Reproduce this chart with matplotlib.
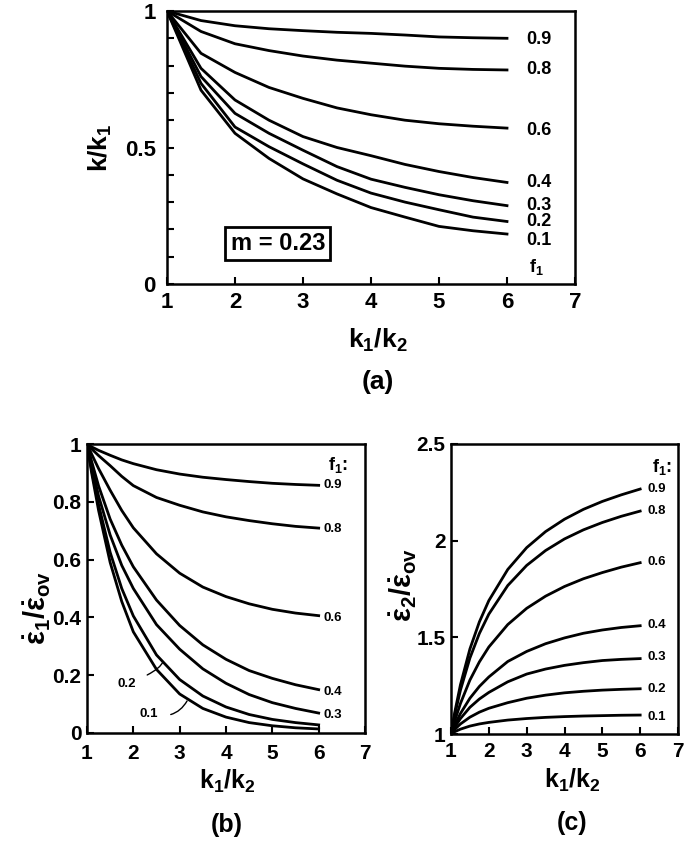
import matplotlib
matplotlib.use("Agg")
import matplotlib.pyplot as plt
from matplotlib.ticker import FixedLocator, FixedFormatter

plt.rcParams['font.family'] = ['Liberation Sans', 'DejaVu Sans']
plt.rcParams['font.weight'] = 'bold'
plt.rcParams['mathtext.fontset'] = 'custom'
plt.rcParams['mathtext.rm'] = 'Liberation Sans:bold'
plt.rcParams['mathtext.bf'] = 'Liberation Sans:bold'
plt.rcParams['mathtext.it'] = 'Liberation Sans:bold'

# ---------------- data ----------------
f1_labels = ['0.9', '0.8', '0.6', '0.4', '0.3', '0.2', '0.1']

# panel (a): k/k1 vs k1/k2
xa = [1, 1.5, 2, 2.5, 3, 3.5, 4, 4.5, 5, 5.5, 6]
ka_09 = [1, 0.965, 0.946, 0.935, 0.928, 0.922, 0.918, 0.912, 0.905, 0.902, 0.900]
ka_08 = [1, 0.925, 0.880, 0.855, 0.835, 0.820, 0.809, 0.798, 0.790, 0.786, 0.784]
ka_06 = [1, 0.845, 0.775, 0.720, 0.680, 0.645, 0.620, 0.600, 0.587, 0.578, 0.571]
ka_04 = [1, 0.790, 0.674, 0.600, 0.540, 0.500, 0.470, 0.438, 0.412, 0.390, 0.372]
ka_03 = [1, 0.760, 0.625, 0.552, 0.490, 0.430, 0.384, 0.354, 0.327, 0.305, 0.287]
ka_02 = [1, 0.735, 0.575, 0.503, 0.440, 0.380, 0.333, 0.300, 0.272, 0.245, 0.229]
ka_01 = [1, 0.710, 0.552, 0.460, 0.385, 0.330, 0.280, 0.245, 0.211, 0.195, 0.183]
ka_all = [ka_09, ka_08, ka_06, ka_04, ka_03, ka_02, ka_01]
ka_label_y = [0.894, 0.784, 0.564, 0.371, 0.286, 0.228, 0.161]

# panels (b) and (c) share the x samples
xb = [1, 1.1, 1.25, 1.5, 1.75, 2, 2.5, 3, 3.5, 4, 4.5, 5, 5.5, 6]

# panel (b): eps1/eps_ov
eb_09 = [1, 0.990, 0.978, 0.961, 0.945, 0.932, 0.911, 0.896, 0.885, 0.877, 0.870, 0.864, 0.860, 0.857]
eb_08 = [1, 0.983, 0.960, 0.925, 0.888, 0.856, 0.815, 0.788, 0.765, 0.748, 0.735, 0.724, 0.715, 0.709]
eb_06 = [1, 0.965, 0.915, 0.840, 0.770, 0.710, 0.620, 0.553, 0.505, 0.472, 0.447, 0.428, 0.415, 0.406]
eb_04 = [1, 0.940, 0.855, 0.740, 0.650, 0.575, 0.460, 0.372, 0.305, 0.255, 0.216, 0.189, 0.167, 0.150]
eb_03 = [1, 0.925, 0.820, 0.685, 0.580, 0.500, 0.375, 0.290, 0.222, 0.172, 0.133, 0.105, 0.085, 0.069]
eb_02 = [1, 0.910, 0.790, 0.625, 0.500, 0.405, 0.270, 0.185, 0.128, 0.090, 0.064, 0.047, 0.036, 0.028]
eb_01 = [1, 0.900, 0.770, 0.590, 0.455, 0.350, 0.220, 0.135, 0.085, 0.055, 0.036, 0.025, 0.018, 0.014]
eb_all = [eb_09, eb_08, eb_06, eb_04, eb_03, eb_02, eb_01]
eb_label_y = [0.857, 0.706, 0.397, 0.143, 0.062]

# panel (c): eps2/eps_ov
ec_09 = [1, 1.113, 1.255, 1.440, 1.580, 1.690, 1.851, 1.964, 2.047, 2.111, 2.162, 2.203, 2.237, 2.267]
ec_08 = [1, 1.100, 1.227, 1.393, 1.520, 1.620, 1.768, 1.872, 1.949, 2.009, 2.056, 2.094, 2.126, 2.153]
ec_06 = [1, 1.069, 1.158, 1.279, 1.373, 1.450, 1.566, 1.650, 1.713, 1.763, 1.803, 1.835, 1.863, 1.886]
ec_04 = [1, 1.047, 1.106, 1.185, 1.246, 1.295, 1.375, 1.427, 1.467, 1.497, 1.521, 1.538, 1.551, 1.560]
ec_03 = [1, 1.036, 1.080, 1.138, 1.181, 1.215, 1.270, 1.310, 1.336, 1.355, 1.369, 1.380, 1.386, 1.390]
ec_02 = [1, 1.024, 1.052, 1.087, 1.113, 1.133, 1.162, 1.185, 1.201, 1.213, 1.221, 1.227, 1.231, 1.234]
ec_01 = [1, 1.012, 1.025, 1.041, 1.052, 1.060, 1.072, 1.080, 1.086, 1.090, 1.093, 1.095, 1.097, 1.098]
ec_all = [ec_09, ec_08, ec_06, ec_04, ec_03, ec_02, ec_01]
ec_label_y = [2.266, 2.153, 1.891, 1.563, 1.397, 1.231, 1.090]

# ---------------- figure ----------------
W, H = 685, 841
fig = plt.figure(figsize=(W / 100, H / 100), dpi=100)

def ax_at(l, t, r, b):
    return fig.add_axes([l / W, 1 - b / H, (r - l) / W, (b - t) / H])

LW = 2.0
LABEL_FS = 19
LABEL_FS_BC = 18

def style(ax, labelsize):
    for s in ax.spines.values():
        s.set_linewidth(1.8)
    ax.tick_params(which='both', direction='in', length=5, width=1.5,
                   labelsize=labelsize, top=False, right=False)
    for lab in ax.get_xticklabels() + ax.get_yticklabels():
        lab.set_fontweight('bold')

def x_setup(ax):
    ax.set_xlim(1, 7)
    ax.xaxis.set_major_locator(FixedLocator([1, 2, 3, 4, 5, 6, 7]))
    ax.xaxis.set_major_formatter(FixedFormatter(['1', '2', '3', '4', '5', '6', '7']))

# (a)
axa = ax_at(167, 11, 575, 284)
for yv in ka_all:
    axa.plot(xa, yv, color='black', lw=LW, solid_joinstyle='round')
x_setup(axa)
axa.set_ylim(0, 1)
axa.yaxis.set_major_locator(FixedLocator([0, 0.5, 1]))
axa.yaxis.set_major_formatter(FixedFormatter(['0', '0.5', '1']))
axa.yaxis.set_minor_locator(FixedLocator([0.1, 0.2, 0.3, 0.4, 0.6, 0.7, 0.8, 0.9]))
style(axa, 16)
axa.tick_params(axis='x', pad=6)
axa.tick_params(axis='y', pad=8)
for lab, yl in zip(f1_labels, ka_label_y):
    axa.text(6.29, yl, lab, fontsize=13, fontweight='bold', va='center', ha='left')
axa.text(6.33, 0.063, r'$\mathbf{f_1}$', fontsize=13, va='center', ha='left')
axa.text(2.63, 0.148, 'm = 0.23', fontsize=17, fontweight='bold', va='center', ha='center',
         bbox=dict(boxstyle='square,pad=0.22', fc='white', ec='black', lw=2.0))
fig.text(100 / W, 1 - 148 / H, r'$\mathbf{k/k_1}$', fontsize=LABEL_FS, rotation=90,
         ha='center', va='center')
fig.text(378 / W, 1 - 340 / H, r'$\mathbf{k_1/k_2}$', fontsize=LABEL_FS, ha='center', va='center')
fig.text(378 / W, 1 - 382 / H, '(a)', fontsize=LABEL_FS, fontweight='bold', ha='center', va='center')

# (b)
axb = ax_at(87, 444, 365, 733)
for yv in eb_all:
    axb.plot(xb, yv, color='black', lw=LW, solid_joinstyle='round')
x_setup(axb)
axb.set_ylim(0, 1)
axb.yaxis.set_major_locator(FixedLocator([0, 0.2, 0.4, 0.6, 0.8, 1]))
axb.yaxis.set_major_formatter(FixedFormatter(['0', '0.2', '0.4', '0.6', '0.8', '1']))
style(axb, 15)
axb.tick_params(axis='x', pad=8)
axb.tick_params(axis='y', pad=4)
for lab, yl in zip(f1_labels[:5], eb_label_y):
    axb.text(6.1, yl, lab, fontsize=9.5, fontweight='bold', va='center', ha='left')
axb.text(6.2, 0.927, r'$\mathbf{f_1}$:', fontsize=13, fontweight='bold', va='center', ha='left')
axb.annotate('0.2', xy=(2.64, 0.247), xytext=(1.85, 0.17), fontsize=9.5, fontweight='bold',
             ha='center', va='center',
             arrowprops=dict(arrowstyle='-', lw=1.0, color='black',
                             connectionstyle='angle3,angleA=20,angleB=70',
                             shrinkA=7, shrinkB=0))
axb.annotate('0.1', xy=(3.16, 0.111), xytext=(2.34, 0.066), fontsize=9.5, fontweight='bold',
             ha='center', va='center',
             arrowprops=dict(arrowstyle='-', lw=1.0, color='black',
                             connectionstyle='angle3,angleA=-15,angleB=60',
                             shrinkA=7, shrinkB=0))
fig.text(37 / W, 1 - 608 / H, r'$\mathbf{\dot{\varepsilon}_1/\dot{\varepsilon}_{ov}}$',
         fontsize=21, rotation=90, ha='center', va='center')
fig.text(227 / W, 1 - 781 / H, r'$\mathbf{k_1/k_2}$', fontsize=LABEL_FS_BC, ha='center', va='center')
fig.text(227 / W, 1 - 825 / H, '(b)', fontsize=LABEL_FS_BC, fontweight='bold', ha='center', va='center')

# (c)
axc = ax_at(451, 444, 678, 734)
for yv in ec_all:
    axc.plot(xb, yv, color='black', lw=LW, solid_joinstyle='round')
x_setup(axc)
axc.set_ylim(1, 2.5)
axc.yaxis.set_major_locator(FixedLocator([1, 1.5, 2, 2.5]))
axc.yaxis.set_major_formatter(FixedFormatter(['1', '1.5', '2', '2.5']))
style(axc, 15)
axc.tick_params(axis='x', pad=6)
axc.tick_params(axis='y', pad=4)
for lab, yl in zip(f1_labels, ec_label_y):
    axc.text(6.2, yl, lab, fontsize=9.5, fontweight='bold', va='center', ha='left')
axc.text(6.3, 2.383, r'$\mathbf{f_1}$:', fontsize=13, fontweight='bold', va='center', ha='left')
fig.text(403 / W, 1 - 585 / H, r'$\mathbf{\dot{\varepsilon}_2/\dot{\varepsilon}_{ov}}$',
         fontsize=21, rotation=90, ha='center', va='center')
fig.text(572 / W, 1 - 780 / H, r'$\mathbf{k_1/k_2}$', fontsize=LABEL_FS_BC, ha='center', va='center')
fig.text(572 / W, 1 - 823 / H, '(c)', fontsize=LABEL_FS_BC, fontweight='bold', ha='center', va='center')

fig.savefig('out.png', dpi=100)
